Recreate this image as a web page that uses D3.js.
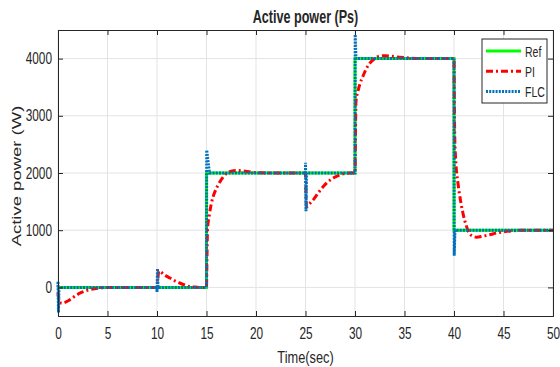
<!DOCTYPE html>
<html>
<head>
<meta charset="utf-8">
<script src="https://cdn.jsdelivr.net/npm/d3@7"></script>
<style>
  body { margin: 0; background: #fff; }
  text { font-family: "Liberation Sans", Arial, sans-serif; fill: #262626; }
</style>
</head>
<body>
<div id="chart"></div>
<script>
"use strict";

// == DATA ==
var xTicks = [0, 5, 10, 15, 20, 25, 30, 35, 40, 45, 50];
var yTicks = [0, 1000, 2000, 3000, 4000];

// reference: step changes
var refT = [0, 15, 30, 40, 50];
var refV = [0, 2000, 4000, 1000, 1000];

// PI response
var piT = [0, 0.05, 0.15, 0.4, 0.8, 1.2, 1.7, 2.2, 2.7, 3.2, 3.7, 4.2, 5, 6,
	10, 10.08, 10.2, 10.7, 11.3, 11.8, 12.3, 12.8, 13.2, 13.8, 14.5,
	15, 15.05, 15.1, 15.3, 15.5, 15.8, 16.2, 16.6, 17, 17.5, 18, 18.7, 19.5, 20.5, 22,
	25, 25.05, 25.1, 25.4, 25.8, 26.3, 26.8, 27.3, 27.8, 28.3, 28.8, 29.5,
	30, 30.05, 30.1, 30.3, 30.5, 30.8, 31.1, 31.5, 32, 32.5, 33, 33.7, 34.5, 35.5, 37,
	40, 40.03, 40.08, 40.15, 40.4, 40.65, 40.9, 41.2, 41.5, 41.9, 42.3, 42.9, 43.6, 44.3, 45, 46, 47, 50];
var piV = [-90, -180, -250, -278, -255, -215, -155, -100, -65, -40, -22, -10, -2, 0,
	0, 150, 285, 225, 165, 115, 77, 42, 18, 5, 0,
	0, 550, 1000, 1280, 1475, 1650, 1800, 1910, 1990, 2030, 2045, 2035, 2015, 2003, 2000,
	2000, 1600, 1410, 1460, 1535, 1655, 1765, 1850, 1912, 1955, 1985, 1998,
	2000, 2700, 3250, 3430, 3560, 3690, 3810, 3920, 4000, 4045, 4050, 4040, 4025, 4010, 4000,
	4000, 3300, 2600, 2300, 1825, 1530, 1300, 1100, 960, 895, 878, 895, 920, 950, 970, 990, 1000, 1000];

// FLC response, with the spikes at each step
var flcT = [0, 0, 0.05, 0.1, 10, 10, 10.05, 10.1, 15, 15.02, 15.3, 25, 25, 25.05, 25.1,
	30, 30.02, 30.1, 40, 40.02, 40.1, 50];
var flcV = [0, 105, -440, 0, 0, -80, 330, 0, 0, 2400, 2000, 2000, 2180, 1330, 2000,
	2000, 4420, 4000, 4000, 555, 1000, 1000];

var series = [
	{ name: "Ref", color: "#00ff00", dash: null, t: refT, v: refV, curve: d3.curveStepAfter },
	{ name: "PI", color: "#ff0000", dash: "7,3,2,3", t: piT, v: piV, curve: d3.curveMonotoneX },
	{ name: "FLC", color: "#0072bd", dash: "2,1.2", t: flcT, v: flcV, curve: d3.curveLinear }
];

// == BOILERPLATE ==
var W = 560, H = 367;
var margin = { top: 30, right: 7, bottom: 51, left: 58 },
	width = W - margin.left - margin.right,
	height = H - margin.top - margin.bottom;
var sx = 0.74; // the picture is squeezed horizontally, text follows

var svg = d3.select("#chart").append("svg")
	.attr("width", W).attr("height", H);
svg.append("rect").attr("width", W).attr("height", H).attr("fill", "#fff");

var g = svg.append("g")
	.attr("transform", "translate(" + margin.left + "," + margin.top + ")");

var x = d3.scaleLinear().domain([0, 50]).range([0, width]);
var y = d3.scaleLinear().domain([-500, 4500]).range([height, 0]);

// grid
g.append("g").selectAll("line").data(xTicks).enter().append("line")
	.attr("x1", function (d) { return x(d); }).attr("x2", function (d) { return x(d); })
	.attr("y1", 0).attr("y2", height)
	.attr("stroke", "#e3e3e3").attr("stroke-width", 1);
g.append("g").selectAll("line").data(yTicks).enter().append("line")
	.attr("y1", function (d) { return y(d); }).attr("y2", function (d) { return y(d); })
	.attr("x1", 0).attr("x2", width)
	.attr("stroke", "#e3e3e3").attr("stroke-width", 1);

// lines
var line = d3.line()
	.x(function (d) { return x(d[0]); })
	.y(function (d) { return y(d[1]); });

series.forEach(function (s) {
	var pts = s.t.map(function (t, i) { return [t, s.v[i]]; });
	g.append("path")
		.datum(pts)
		.attr("d", line.curve(s.curve))
		.attr("fill", "none")
		.attr("stroke", s.color)
		.attr("stroke-width", 3)
		.attr("stroke-dasharray", s.dash);
});

// axes (ticks inward, box all round)
var ax = g.append("g").attr("class", "axes");
ax.append("g").attr("transform", "translate(0," + height + ")")
	.call(d3.axisBottom(x).tickValues(xTicks).tickSize(-5).tickPadding(12).tickFormat(d3.format("d")))
	.call(function (a) {
		a.selectAll("text").attr("font-size", 16).attr("transform", "scale(" + sx + ",1)");
	});
ax.append("g")
	.call(d3.axisTop(x).tickValues(xTicks).tickSize(-5).tickFormat(""));
ax.append("g")
	.call(d3.axisLeft(y).tickValues(yTicks).tickSize(-5).tickFormat(d3.format("d")))
	.call(function (a) {
		a.selectAll("text").attr("font-size", 16)
			.attr("x", -6 / sx)
			.attr("transform", "scale(" + sx + ",1)");
	});
ax.append("g").attr("transform", "translate(" + width + ",0)")
	.call(d3.axisRight(y).tickValues(yTicks).tickSize(-5).tickFormat(""));
ax.selectAll(".domain").attr("stroke", "#262626");
ax.selectAll(".tick line").attr("stroke", "#262626");
ax.selectAll("text").attr("fill", "#262626").attr("font-family", "Liberation Sans, Arial, sans-serif");

// titles
svg.append("text")
	.attr("transform", "translate(" + (margin.left + width / 2) + ",23) scale(0.72,1)")
	.attr("text-anchor", "middle")
	.attr("font-size", 17.5).attr("font-weight", "bold")
	.attr("fill", "#000")
	.text("Active power (Ps)");
svg.append("text")
	.attr("transform", "translate(" + (margin.left + width / 2) + ",363) scale(0.8,1)")
	.attr("text-anchor", "middle")
	.attr("font-size", 16)
	.text("Time(sec)");
svg.append("text")
	.attr("transform", "translate(21,176) scale(0.72,1) rotate(-90)")
	.attr("text-anchor", "middle")
	.attr("font-size", 18.5)
	.text("Active power (W)");

// legend
var lg = svg.append("g").attr("transform", "translate(482,39)");
lg.append("rect").attr("width", 65).attr("height", 64)
	.attr("fill", "#fff").attr("stroke", "#262626").attr("stroke-width", 1);
series.forEach(function (s, i) {
	var yy = 12 + i * 20.2;
	lg.append("line")
		.attr("x1", 4).attr("x2", 39).attr("y1", yy).attr("y2", yy)
		.attr("stroke", s.color).attr("stroke-width", 3)
		.attr("stroke-dasharray", s.dash);
	lg.append("text")
		.attr("transform", "translate(43," + (yy + 5.5) + ") scale(0.7,1)")
		.attr("font-size", 15)
		.text(s.name);
});
</script>
</body>
</html>
